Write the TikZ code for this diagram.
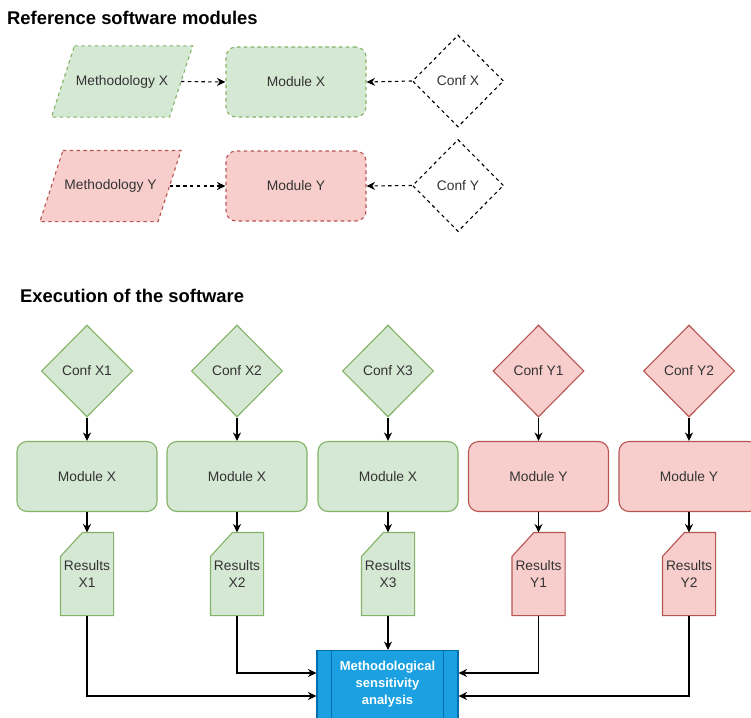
\documentclass[tikz,border=0pt]{standalone}
\usepackage{fontspec}
\setmainfont{Liberation Sans}
\usetikzlibrary{arrows.meta,shapes.geometric,calc}

\definecolor{gfill}{HTML}{D5E8D4}
\definecolor{gline}{HTML}{82B366}
\definecolor{rfill}{HTML}{F8CECC}
\definecolor{rline}{HTML}{B85450}
\definecolor{bfill}{HTML}{1BA1E2}
\definecolor{bline}{HTML}{006EAF}
\definecolor{txt}{HTML}{333333}

\tikzset{
  base/.style={line width=1.1pt, text=txt, font=\fontsize{13.8}{16}\selectfont, align=center, inner sep=0pt},
  dsh/.style={dash pattern=on 3.4pt off 3.4pt},
  modbox/.style={base, rectangle, rounded corners=10pt, minimum width=140pt, minimum height=70pt},
  confbox/.style={base, diamond, aspect=1, minimum width=91pt, minimum height=92pt},
  greenbox/.style={fill=gfill, draw=gline},
  redbox/.style={fill=rfill, draw=rline},
  methbox/.style={base, rectangle, minimum width=117pt, minimum height=70pt},
  resbox/.style={base, rectangle, minimum width=52pt, minimum height=82pt},
  arr/.style={line width=1.1pt, draw=black, -{Stealth[length=8.5pt,width=8pt]}},
  heading/.style={font=\bfseries\fontsize{18.4}{20}\selectfont, anchor=west, inner sep=0pt, text=black},
}

\begin{document}
\begin{tikzpicture}[x=1pt, y=-1pt]
\useasboundingbox (0,0) rectangle (751,717);
\clip (0,0) rectangle (751,717);

% ---------- Reference software modules ----------
\node[heading] (t1) at (7,18) {Reference software modules};

% methodology parallelograms (outline drawn from the text node's corners)
\node[methbox] (methX) at (122,81.5) {};
\path[fill=gfill, draw=gline, line width=1.1pt, dsh]
  ($(methX.north west)+(11.5,0)$) -- ($(methX.north east)+(11.5,0)$)
  -- ($(methX.south east)+(-11.5,0)$) -- ($(methX.south west)+(-11.5,0)$) -- cycle;
\node[base] at (methX) {Methodology X};

\node[methbox] (methY) at (110.5,186) {};
\path[fill=rfill, draw=rline, line width=1.1pt, dsh]
  ($(methY.north west)+(11.5,0)$) -- ($(methY.north east)+(11.5,0)$)
  -- ($(methY.south east)+(-11.5,0)$) -- ($(methY.south west)+(-11.5,0)$) -- cycle;
\node[base] at (methY) {Methodology Y};

\node[modbox, greenbox, dsh] (refModX) at (296,82) {Module X};
\node[modbox, redbox, dsh] (refModY) at (296,186) {Module Y};

\node[confbox, draw=black, fill=white, dsh] (refConfX) at (458,81) {Conf X};
\node[confbox, draw=black, fill=white, dsh] (refConfY) at (458,185.5) {Conf Y};

\draw[arr, dsh] (methX.east) -- (refModX.west);
\draw[arr, dsh] (methY.east) -- (refModY.west);
\draw[arr, dsh] (refConfX.west) -- (refModX.east);
\draw[arr, dsh] (refConfY.west) -- (refModY.east);

% ---------- Execution of the software ----------
\node[heading] (t2) at (20,296) {Execution of the software};

\foreach \n/\x/\lab/\sty/\mod in {x1/87/X1/greenbox/X, x2/237/X2/greenbox/X, x3/388/X3/greenbox/X,
                                  y1/538.5/Y1/redbox/Y, y2/689/Y2/redbox/Y} {
  \node[confbox, \sty] (conf\n) at (\x,371) {Conf \lab};
  \node[modbox, \sty] (mod\n) at (\x,476.5) {Module \mod};
  % results card with a clipped top-left corner
  \node[resbox] (res\n) at (\x,574) {};
  \path[\sty, line width=1.1pt] ($(res\n.north west)+(22,0)$) -- (res\n.north east)
    -- (res\n.south east) -- (res\n.south west) -- ($(res\n.north west)+(0,24)$) -- cycle;
  \node[base] at (res\n.center) {Results\\[1pt]\lab};
  \draw[arr] (conf\n.south) -- (mod\n.north);
  \draw[arr] (mod\n.south) -- (res\n.north);
}

% sensitivity analysis (predefined process)
\node[rectangle, fill=bfill, draw=bline, line width=1.1pt, minimum width=141pt, minimum height=86pt,
      anchor=north, inner sep=0pt] (msa) at (387.5,650) {};
\draw[bline, line width=1.1pt] ($(msa.north west)+(15,0)$) -- ($(msa.south west)+(15,0)$);
\draw[bline, line width=1.1pt] ($(msa.north east)+(-15,0)$) -- ($(msa.south east)+(-15,0)$);
\node[base, text=white, font=\bfseries\fontsize{13}{17}\selectfont] (msatext) at (387.5,684)
  {Methodological\\sensitivity\\analysis};

\coordinate (inL1) at ($(msa.north west)+(0,23)$);
\coordinate (inL2) at ($(msa.north west)+(0,46)$);
\coordinate (inR1) at ($(msa.north east)+(0,23)$);
\coordinate (inR2) at ($(msa.north east)+(0,46)$);

\draw[arr] (resx1.south) |- (inL2);
\draw[arr] (resx2.south) |- (inL1);
\draw[arr] (resx3.south) -- (resx3.south |- msa.north);
\draw[arr] (resy1.south) |- (inR1);
\draw[arr] (resy2.south) |- (inR2);
\end{tikzpicture}
\end{document}
